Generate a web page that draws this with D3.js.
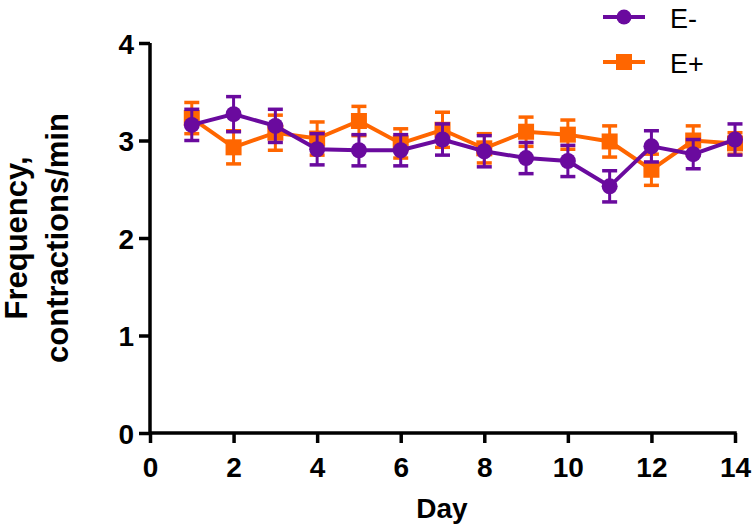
<!DOCTYPE html>
<html><head><meta charset="utf-8">
<script src="https://cdn.jsdelivr.net/npm/d3@7"></script>
<style>body{margin:0;background:#fff;} svg{display:block;font-family:"Liberation Sans",Arial,sans-serif;}</style>
</head><body>
<svg id="c" width="756" height="532"></svg>
<script>
const days = [1,2,3,4,5,6,7,8,9,10,11,12,13,14];
const eMinus = [3.16,3.27,3.15,2.91,2.90,2.90,3.01,2.89,2.82,2.79,2.53,2.94,2.86,3.01];
const eMinusErr = [0.16,0.18,0.17,0.16,0.16,0.16,0.16,0.16,0.16,0.16,0.16,0.16,0.15,0.16];
const ePlus = [3.23,2.93,3.08,3.02,3.20,2.97,3.11,2.92,3.09,3.06,2.99,2.70,3.00,2.97];
const ePlusErr = [0.16,0.17,0.18,0.17,0.15,0.15,0.18,0.15,0.15,0.15,0.16,0.16,0.15,0.11];
const xTicks = [0,2,4,6,8,10,12,14];
const yTicks = [0,1,2,3,4];
const seriesNames = ["E-","E+"];

const purple = "#6a0a9e", orange = "#ff6600";
const svg = d3.select("#c");
const x = d3.scaleLinear().domain([0,14]).range([150,735]);
const y = d3.scaleLinear().domain([0,4]).range([433,43]);

// axes
const yAx = svg.append("g").attr("transform","translate(150,0)")
  .call(d3.axisLeft(y).tickValues(yTicks).tickSize(11).tickPadding(5).tickFormat(d3.format("d")));
const xAx = svg.append("g").attr("transform","translate(0,433)")
  .call(d3.axisBottom(x).tickValues(xTicks).tickSize(10).tickPadding(14).tickFormat(d3.format("d")));
[yAx,xAx].forEach(g=>{
  g.select(".domain").attr("stroke","#000").attr("stroke-width",3.5);
  g.selectAll(".tick line").attr("stroke","#000").attr("stroke-width",3.5);
  g.selectAll(".tick text").attr("fill","#000").attr("font-size",28).attr("font-weight","bold")
    .attr("font-family","'Liberation Sans',Arial,sans-serif");
});
yAx.select(".domain").attr("d","M0,"+(y(0)+1.75)+"V"+y(4));
yAx.selectAll(".tick text").attr("dy","0.36em");
xAx.select(".domain").attr("d","M"+x(0)+",0H"+(x(14)+1.75));
xAx.selectAll(".tick text").attr("dy","0.71em");

// titles
svg.append("text").attr("x",442).attr("y",518).attr("text-anchor","middle")
  .attr("font-size",28).attr("font-weight","bold").text("Day");
const yt = svg.append("text").attr("transform","translate(0,238) rotate(-90)")
  .attr("text-anchor","middle").attr("font-size",31).attr("font-weight","bold");
yt.append("tspan").attr("x",0).attr("y",27).text("Frequency,");
yt.append("tspan").attr("x",0).attr("y",68).text("contractions/min");

function drawSeries(vals, errs, color, shape){
  const g = svg.append("g");
  const data = days.map((d,i)=>({d, v: vals[i], e: errs[i]}));
  const line = d3.line().x(p=>x(p.d)).y(p=>y(p.v));
  data.forEach(p=>{
    g.append("line").attr("x1",x(p.d)).attr("x2",x(p.d)).attr("y1",y(p.v-p.e)).attr("y2",y(p.v+p.e))
      .attr("stroke",color).attr("stroke-width",3);
    [p.v-p.e,p.v+p.e].forEach(v=>{
      g.append("line").attr("x1",x(p.d)-7.5).attr("x2",x(p.d)+7.5).attr("y1",y(v)).attr("y2",y(v))
        .attr("stroke",color).attr("stroke-width",3.5);
    });
  });
  g.append("path").datum(data).attr("d",line).attr("fill","none").attr("stroke",color).attr("stroke-width",4);
  data.forEach(p=>{
    if(shape==="circle") g.append("circle").attr("cx",x(p.d)).attr("cy",y(p.v)).attr("r",8).attr("fill",color);
    else g.append("rect").attr("x",x(p.d)-8).attr("y",y(p.v)-8).attr("width",16).attr("height",16).attr("fill",color);
  });
}
drawSeries(ePlus, ePlusErr, orange, "square");
drawSeries(eMinus, eMinusErr, purple, "circle");

// legend
const leg = [{n:seriesNames[0],c:purple,s:"circle",y:17},{n:seriesNames[1],c:orange,s:"square",y:62}];
leg.forEach(l=>{
  svg.append("line").attr("x1",603).attr("x2",645).attr("y1",l.y).attr("y2",l.y).attr("stroke",l.c).attr("stroke-width",4);
  if(l.s==="circle") svg.append("circle").attr("cx",624).attr("cy",l.y).attr("r",7.5).attr("fill",l.c);
  else svg.append("rect").attr("x",616).attr("y",l.y-8).attr("width",16).attr("height",16).attr("fill",l.c);
  svg.append("text").attr("x",670).attr("y",l.y+11).attr("font-size",27).attr("fill","#000").text(l.n);
});
</script>
</body></html>
